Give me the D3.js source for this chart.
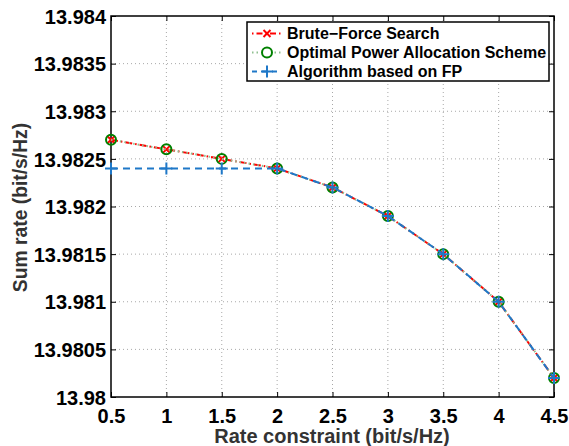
<!DOCTYPE html>
<html><head><meta charset="utf-8">
<script src="https://cdn.jsdelivr.net/npm/d3@7"></script>
<style>body{margin:0;background:#fff}svg{display:block}</style>
</head><body>
<svg id="c" width="569" height="446"></svg>
<script>
const xValues = [0.5, 1, 1.5, 2, 2.5, 3, 3.5, 4, 4.5];
const bruteForce = [13.9827, 13.9826, 13.9825, 13.9824, 13.9822, 13.9819, 13.9815, 13.9810, 13.9802];
const optimalPA = [13.9827, 13.9826, 13.9825, 13.9824, 13.9822, 13.9819, 13.9815, 13.9810, 13.9802];
const fpAlgo = [13.9824, 13.9824, 13.9824, 13.9824, 13.9822, 13.9819, 13.9815, 13.9810, 13.9802];
const xTicks = [0.5, 1, 1.5, 2, 2.5, 3, 3.5, 4, 4.5];
const yTicks = [13.98, 13.9805, 13.981, 13.9815, 13.982, 13.9825, 13.983, 13.9835, 13.984];
const yTickLabels = ["13.98", "13.9805", "13.981", "13.9815", "13.982", "13.9825", "13.983", "13.9835", "13.984"];
const seriesNames = ["Brute\u2212Force Search", "Optimal Power Allocation Scheme", "Algorithm based on FP"];

const L = 111, R = 554, T = 16, B = 397;
const svg = d3.select("#c");
const x = d3.scaleLinear().domain([0.5, 4.5]).range([L, R]);
const y = d3.scaleLinear().domain([13.98, 13.984]).range([B, T]);
const font = "'Liberation Sans', Arial, Helvetica, sans-serif";

// grid
const g = svg.append("g");
g.selectAll(".gx").data(xTicks.slice(1, -1)).enter().append("line")
  .attr("x1", d => x(d)).attr("x2", d => x(d)).attr("y1", T).attr("y2", B)
  .attr("stroke", "#a8a8a8").attr("stroke-width", 1).attr("stroke-dasharray", "1,3");
g.selectAll(".gy").data(yTicks.slice(1, -1)).enter().append("line")
  .attr("y1", d => y(d)).attr("y2", d => y(d)).attr("x1", L).attr("x2", R)
  .attr("stroke", "#a8a8a8").attr("stroke-width", 1).attr("stroke-dasharray", "1,3");

// axes
const xAxis = d3.axisBottom(x).tickValues(xTicks).tickSize(-5).tickPadding(12).tickFormat(d3.format("~g"));
const yAxis = d3.axisLeft(y).tickValues(yTicks).tickSize(-5).tickPadding(5).tickFormat((d, i) => yTickLabels[i]);
const xa = svg.append("g").attr("transform", `translate(0,${B})`).call(xAxis);
const ya = svg.append("g").attr("transform", `translate(${L},0)`).call(yAxis);
svg.append("g").attr("transform", `translate(0,${T})`).call(d3.axisTop(x).tickValues(xTicks).tickSize(-5).tickFormat(""));
svg.append("g").attr("transform", `translate(${R},0)`).call(d3.axisRight(y).tickValues(yTicks).tickSize(-5).tickFormat(""));
svg.selectAll(".domain").remove();
svg.selectAll(".tick line").attr("stroke", "#000").attr("stroke-width", 1);
[xa, ya].forEach(a => a.selectAll("text").attr("font-family", font).attr("font-size", 20)
  .attr("font-weight", "bold").attr("fill", "#000"));
xa.selectAll("text").attr("dy", "0.68em");
ya.selectAll("text").attr("dy", "0.36em");
svg.append("rect").attr("x", L).attr("y", T).attr("width", R - L).attr("height", B - T)
  .attr("fill", "none").attr("stroke", "#000").attr("stroke-width", 1.5);

// axis labels
svg.append("text").attr("x", (L + R) / 2 - 0.5).attr("y", 443).attr("text-anchor", "middle")
  .attr("font-family", font).attr("font-size", 20).attr("font-weight", "bold").attr("fill", "#333")
  .text("Rate constraint (bit/s/Hz)");
svg.append("text").attr("transform", `translate(27,${(T + B) / 2 + 1}) rotate(-90)`).attr("text-anchor", "middle")
  .attr("font-family", font).attr("font-size", 19.3).attr("font-weight", "bold").attr("fill", "#333")
  .text("Sum rate (bit/s/Hz)");

const line = d3.line().x((d, i) => x(xValues[i])).y(d => y(d));
const RED = "#ff0000", GREEN = "#008000", BLUE = "#1f78c8";

function drawX(sel, cx, cy, s, c) {
  sel.append("path").attr("d", `M${cx - s},${cy - s}L${cx + s},${cy + s}M${cx - s},${cy + s}L${cx + s},${cy - s}`)
    .attr("stroke", c).attr("stroke-width", 2).attr("fill", "none");
}
function drawPlus(sel, cx, cy, s, c) {
  sel.append("path").attr("d", `M${cx - s},${cy}L${cx + s},${cy}M${cx},${cy - s}L${cx},${cy + s}`)
    .attr("stroke", c).attr("stroke-width", 2).attr("fill", "none");
}
function drawO(sel, cx, cy, r, c) {
  sel.append("circle").attr("cx", cx).attr("cy", cy).attr("r", r)
    .attr("stroke", c).attr("stroke-width", 2).attr("fill", "none");
}

const plot = svg.append("g");
// series 1: brute force
plot.append("path").datum(bruteForce).attr("d", line).attr("fill", "none")
  .attr("stroke", RED).attr("stroke-width", 2).attr("stroke-dasharray", "7,3,1.5,3");
bruteForce.forEach((d, i) => drawX(plot, x(xValues[i]), y(d), 3.5, RED));
// series 2: optimal
plot.append("path").datum(optimalPA).attr("d", line).attr("fill", "none")
  .attr("stroke", "#90c090").attr("stroke-width", 2).attr("stroke-dasharray", "1.5,3");
optimalPA.forEach((d, i) => drawO(plot, x(xValues[i]), y(d), 5, GREEN));
// series 3: FP
plot.append("path").datum(fpAlgo).attr("d", line).attr("fill", "none")
  .attr("stroke", BLUE).attr("stroke-width", 2).attr("stroke-dasharray", "7,5");
fpAlgo.forEach((d, i) => drawPlus(plot, x(xValues[i]), y(d), 6, BLUE));

// legend
const lg = svg.append("g");
lg.append("rect").attr("x", 247).attr("y", 22).attr("width", 302).attr("height", 59)
  .attr("fill", "#fff").attr("stroke", "#000").attr("stroke-width", 1.5);
const rows = [33.5, 52.5, 71.5];
const lx1 = 252, lx2 = 282, mx = 267;
lg.append("line").attr("x1", lx1).attr("x2", lx2).attr("y1", rows[0]).attr("y2", rows[0])
  .attr("stroke", RED).attr("stroke-width", 2).attr("stroke-dasharray", "1.5,3,6,3");
drawX(lg, mx, rows[0], 3.5, RED);
lg.append("line").attr("x1", lx1).attr("x2", lx2).attr("y1", rows[1]).attr("y2", rows[1])
  .attr("stroke", "#90c090").attr("stroke-width", 2).attr("stroke-dasharray", "1.5,3");
lg.append("rect").attr("x", mx - 6).attr("y", rows[1] - 6).attr("width", 12).attr("height", 12).attr("fill", "#fff");
drawO(lg, mx, rows[1], 5, GREEN);
lg.append("line").attr("x1", lx1).attr("x2", lx2).attr("y1", rows[2]).attr("y2", rows[2])
  .attr("stroke", BLUE).attr("stroke-width", 2).attr("stroke-dasharray", "5,5");
drawPlus(lg, mx, rows[2], 6, BLUE);
seriesNames.forEach((n, i) => {
  lg.append("text").attr("x", 287).attr("y", rows[i]).attr("dy", "0.36em")
    .attr("font-family", font).attr("font-size", 16).attr("font-weight", "bold").attr("fill", "#000").text(n);
});
</script>
</body></html>
